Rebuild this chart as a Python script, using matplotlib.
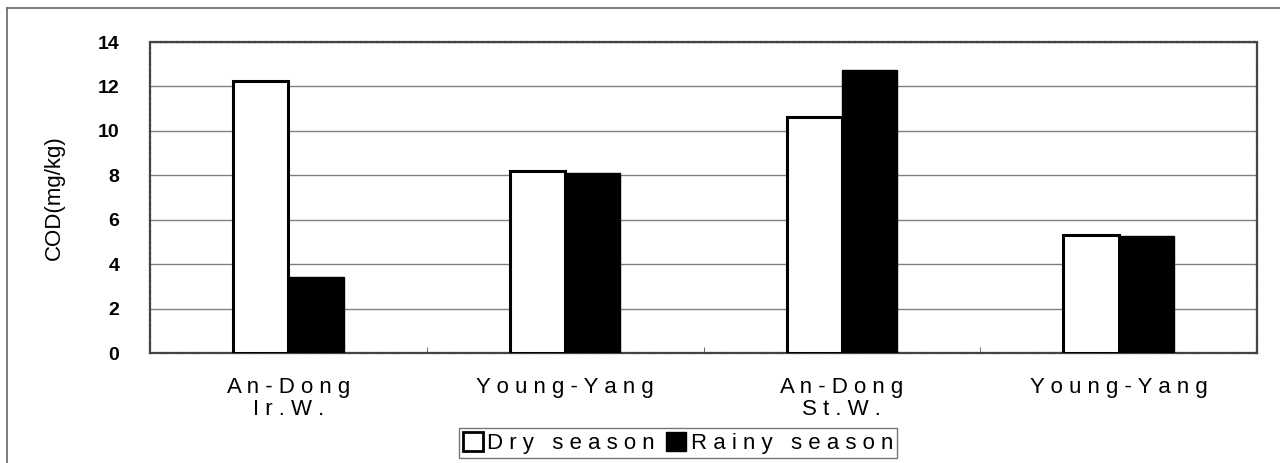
import matplotlib
matplotlib.use("Agg")
import matplotlib.pyplot as plt
from matplotlib.lines import Line2D
from matplotlib.patches import Patch
import numpy as np

plt.rcParams['font.family'] = ['Liberation Sans', 'DejaVu Sans']

categories = ["An-Dong\nIr.W.", "Young-Yang", "An-Dong\nSt.W.", "Young-Yang"]
dry = [12.26, 8.18, 10.62, 5.32]
rainy = [3.40, 8.10, 12.72, 5.26]
series_names = ["Dry season", "Rainy season"]
yticks = [0, 2, 4, 6, 8, 10, 12, 14]


def spaced(s, sep=" "):
    return "\n".join(sep.join(list(line)) for line in s.split("\n"))


fig = plt.figure(figsize=(12.8, 4.63), dpi=100)
ax = fig.add_axes([150/1280, 110/463, 1107/1280, 311/463])

x = np.arange(len(categories))
w = 0.2
ax.bar(x - w/2, dry, width=w, color="white", edgecolor="black", linewidth=2.2, zorder=3)
ax.bar(x + w/2, rainy, width=w, color="black", edgecolor="black", linewidth=1, zorder=3)

ax.set_xlim(-0.5, len(categories) - 0.5)
ax.set_ylim(0, 14)
ax.set_yticks(yticks)
ax.set_yticklabels([str(v) for v in yticks], fontsize=14, fontweight='bold')
ax.yaxis.grid(True, color="#808080", linewidth=1.0, zorder=0)
ax.tick_params(axis='y', length=0, pad=22)

ax.set_xticks(np.arange(len(categories) + 1) - 0.5, minor=True)
ax.set_xticks(x)
ax.set_xticklabels([spaced(c) for c in categories], fontsize=16, linespacing=1.1)
ax.tick_params(axis='x', which='major', length=0, pad=17)
ax.tick_params(axis='x', which='minor', length=4, direction='in', color="#555555")

for s in ax.spines.values():
    s.set_linewidth(1.6)
    s.set_color("#444444")
    s.set_linestyle((0, (2, 0.5)))

ax.set_ylabel("COD(mg/kg)", fontsize=16)
ax.yaxis.set_label_coords(-85/1107, 0.5)

handles = [Patch(facecolor="white", edgecolor="black", linewidth=2),
           Patch(facecolor="black", edgecolor="black")]
leg = fig.legend(handles, [spaced(n) for n in series_names],
                 loc="center", bbox_to_anchor=(678/1280, 1 - 443/463), ncol=2,
                 fontsize=16, frameon=True, fancybox=False, edgecolor="#555555",
                 handlelength=0.9, handleheight=0.9, handletextpad=0.2,
                 columnspacing=0.5, borderpad=0.2, borderaxespad=0)
leg.get_frame().set_linewidth(1.0)

# outer frame lines
fig.add_artist(Line2D([7/1280, 7/1280], [0, 1 - 8/463], transform=fig.transFigure, color="#666666", lw=1.2))
fig.add_artist(Line2D([7/1280, 1], [1 - 8/463, 1 - 8/463], transform=fig.transFigure, color="#666666", lw=1.2))

fig.savefig("out.png", dpi=100)
